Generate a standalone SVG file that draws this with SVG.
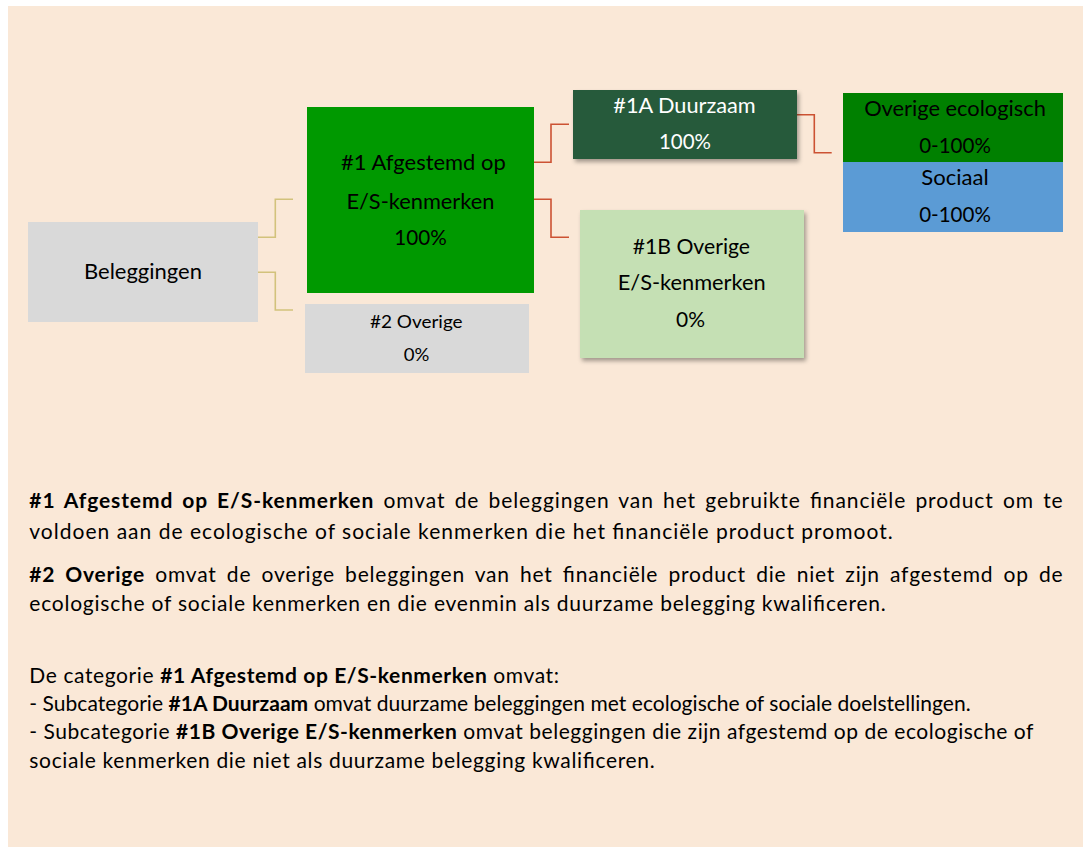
<svg xmlns="http://www.w3.org/2000/svg" width="1088" height="847" viewBox="0 0 1088 847">
<defs>
<filter id="sh" x="-10%" y="-10%" width="125%" height="135%">
<feDropShadow dx="2" dy="3" stdDeviation="2" flood-color="#000" flood-opacity="0.35"/>
</filter>
</defs>
<style>
text{font-family:Lato,"Liberation Sans",sans-serif;fill:#000}
.lbl{font-size:21px;text-anchor:middle}
.sm{font-size:17.5px;text-anchor:middle}
.wt{fill:#fff}
.body{font-size:21px}
.b{font-weight:bold}
.tan{fill:none;stroke:#D2C27C;stroke-width:1.6}
.red{fill:none;stroke:#CC5233;stroke-width:1.6}
</style>
<rect x="0" y="0" width="1088" height="847" fill="#fff"/>
<rect x="8" y="6" width="1075" height="841" fill="#FAE8D7"/>

<g id="connectors">
<polyline class="tan" points="258,237.3 275.3,237.3 275.3,199.3 293,199.3"/>
<polyline class="tan" points="258,272.3 275.3,272.3 275.3,310 293,310"/>
<polyline class="red" points="534,162.3 551,162.3 551,124.3 569,124.3"/>
<polyline class="red" points="534,199.3 551,199.3 551,237.3 569,237.3"/>
<polyline class="red" points="797,114.7 814.3,114.7 814.3,152.7 831.7,152.7"/>
</g>

<g id="beleggingen">
<rect x="28" y="222" width="230" height="100" fill="#D9D9D9"/>
<text class="lbl" x="143" y="279" textLength="118" lengthAdjust="spacingAndGlyphs">Beleggingen</text>
</g>

<g id="n1">
<rect x="307" y="107" width="227" height="186" fill="#009900"/>
<text class="lbl" x="423.4" y="170" textLength="164.6" lengthAdjust="spacingAndGlyphs">#1 Afgestemd op</text>
<text class="lbl" x="420.4" y="209" textLength="148" lengthAdjust="spacingAndGlyphs">E/S-kenmerken</text>
<text class="lbl" x="420.5" y="245" textLength="52.4" lengthAdjust="spacingAndGlyphs">100%</text>
</g>

<g id="n2">
<rect x="305" y="304" width="224" height="69" fill="#D9D9D9"/>
<text class="sm" x="416.3" y="328.3" textLength="92.7" lengthAdjust="spacingAndGlyphs">#2 Overige</text>
<text class="sm" x="416.5" y="361" textLength="25.6" lengthAdjust="spacingAndGlyphs">0%</text>
</g>

<g id="n1a">
<rect x="573" y="90" width="224" height="69" fill="#265A3B" filter="url(#sh)"/>
<text class="lbl wt" x="684.5" y="113.3" textLength="142.4" lengthAdjust="spacingAndGlyphs">#1A Duurzaam</text>
<text class="lbl wt" x="685" y="149.3" textLength="52" lengthAdjust="spacingAndGlyphs">100%</text>
</g>

<g id="n1b">
<rect x="580" y="210" width="224" height="148" fill="#C5E0B4" filter="url(#sh)"/>
<text class="lbl" x="691.4" y="254" textLength="117.3" lengthAdjust="spacingAndGlyphs">#1B Overige</text>
<text class="lbl" x="691.7" y="290" textLength="148" lengthAdjust="spacingAndGlyphs">E/S-kenmerken</text>
<text class="lbl" x="690.5" y="326.7" textLength="29" lengthAdjust="spacingAndGlyphs">0%</text>
</g>

<g id="ecologisch">
<rect x="843" y="93" width="220" height="69" fill="#008000"/>
<text class="lbl" x="955" y="116" textLength="181.7" lengthAdjust="spacingAndGlyphs">Overige ecologisch</text>
<text class="lbl" x="955" y="152.7" textLength="71.7" lengthAdjust="spacingAndGlyphs">0-100%</text>
</g>

<g id="sociaal">
<rect x="843" y="162" width="220" height="70" fill="#5B9BD5"/>
<text class="lbl" x="955" y="185" textLength="67.4" lengthAdjust="spacingAndGlyphs">Sociaal</text>
<text class="lbl" x="955" y="221.7" textLength="71.7" lengthAdjust="spacingAndGlyphs">0-100%</text>
</g>

<g id="legend">
<text class="body" x="29.3" y="508.3" textLength="1033.4" lengthAdjust="spacing" word-spacing="3"><tspan class="b">#1 Afgestemd op E/S-kenmerken</tspan> omvat de beleggingen van het gebruikte financiële product om te</text>
<text class="body" x="29.3" y="539.3" textLength="863.4" lengthAdjust="spacing">voldoen aan de ecologische of sociale kenmerken die het financiële product promoot.</text>
<text class="body" x="29.3" y="581.7" textLength="1033.4" lengthAdjust="spacing" word-spacing="4"><tspan class="b">#2 Overige</tspan> omvat de overige beleggingen van het financiële product die niet zijn afgestemd op de</text>
<text class="body" x="29.3" y="610.7" textLength="856.4" lengthAdjust="spacing">ecologische of sociale kenmerken en die evenmin als duurzame belegging kwalificeren.</text>
<text class="body" x="29.3" y="682.7" textLength="529.7" lengthAdjust="spacing">De categorie <tspan class="b">#1 Afgestemd op E/S-kenmerken</tspan> omvat:</text>
<text class="body" x="29.3" y="711" textLength="941.4" lengthAdjust="spacing">- Subcategorie <tspan class="b">#1A Duurzaam</tspan> omvat duurzame beleggingen met ecologische of sociale doelstellingen.</text>
<text class="body" x="29.3" y="739.3" textLength="1004" lengthAdjust="spacing">- Subcategorie <tspan class="b">#1B Overige E/S-kenmerken</tspan> omvat beleggingen die zijn afgestemd op de ecologische of</text>
<text class="body" x="29.3" y="768.3" textLength="625.4" lengthAdjust="spacing">sociale kenmerken die niet als duurzame belegging kwalificeren.</text>
</g>
</svg>
